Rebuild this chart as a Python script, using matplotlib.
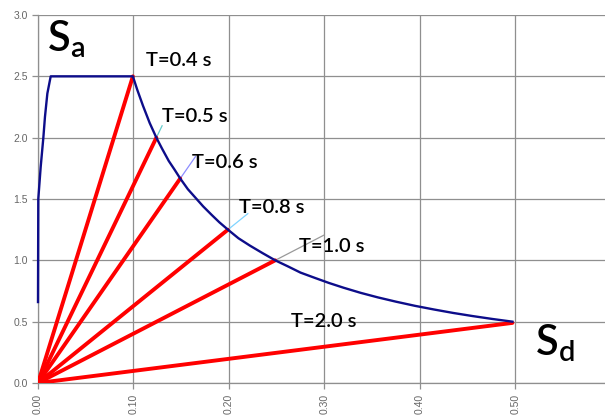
import matplotlib.pyplot as plt

# spectrum curve (Sd in m, Sa in g)
sd_curve = [0.0, 0.0003, 0.0028, 0.0056, 0.0073, 0.0098, 0.0133, 0.0994,
            0.104, 0.110, 0.117, 0.124, 0.130, 0.137, 0.143, 0.149, 0.157,
            0.165, 0.173, 0.182, 0.190, 0.199, 0.210, 0.222, 0.235, 0.2485,
            0.262, 0.275, 0.290, 0.305, 0.320, 0.338, 0.356, 0.375, 0.395,
            0.415, 0.435, 0.455, 0.476, 0.497]
sa_curve = [0.66, 1.50, 1.76, 2.00, 2.17, 2.36, 2.50, 2.50,
            2.39, 2.26, 2.12, 2.00, 1.91, 1.81, 1.74, 1.667, 1.58,
            1.51, 1.44, 1.37, 1.31, 1.25, 1.18, 1.12, 1.06, 1.00,
            0.95, 0.90, 0.857, 0.815, 0.777, 0.735, 0.698, 0.663, 0.629,
            0.599, 0.571, 0.546, 0.522, 0.50]

# period points where the red rays end
periods = ['T=0.4 s', 'T=0.5 s', 'T=0.6 s', 'T=0.8 s', 'T=1.0 s', 'T=2.0 s']
sd_pts = [0.0994, 0.124, 0.149, 0.199, 0.2485, 0.497]
sa_pts = [2.50, 2.00, 1.667, 1.25, 1.00, 0.49]

# short leader lines continuing the rays towards the labels
lead_sd = [None, 0.1303, 0.1653, 0.2203, 0.2998, None]
lead_col = [None, '#66cccc', '#8c8cff', '#7fd4ff', '#999999', None]
lab_x = [0.113, 0.130, 0.1615, 0.2105, 0.2735, 0.265]
lab_y = [2.63, 2.17, 1.80, 1.43, 1.11, 0.50]

plt.rcParams['font.family'] = ['Lato', 'DejaVu Sans']
plt.rcParams['mathtext.default'] = 'regular'

fig = plt.figure(figsize=(6.05, 4.16), dpi=100)
ax = fig.add_axes([38 / 605, 33 / 416, 1 - 38 / 605, (383 - 15) / 416])

ax.set_xlim(0, 0.594)
ax.set_ylim(0, 3.0)
ax.set_xticks([0.0, 0.1, 0.2, 0.3, 0.4, 0.5])
ax.set_xticklabels(['0.00', '0.10', '0.20', '0.30', '0.40', '0.50'], rotation=90)
ax.set_yticks([0.0, 0.5, 1.0, 1.5, 2.0, 2.5, 3.0])
ax.set_yticklabels(['0.0', '0.5', '1.0', '1.5', '2.0', '2.5', '3.0'])
ax.grid(True, color='#8f8f8f', lw=0.9)
ax.set_axisbelow(True)
for s in ['top', 'right']:
    ax.spines[s].set_visible(False)
for s in ['left', 'bottom']:
    ax.spines[s].set_color('#8f8f8f')
    ax.spines[s].set_linewidth(0.9)
ax.tick_params(colors='#8f8f8f', length=4, width=0.9, labelsize=7.5, labelcolor='#666666',
               labelfontfamily='Liberation Sans')

# leader lines
for i in range(len(periods)):
    if lead_sd[i] is None:
        continue
    slope = sa_pts[i] / sd_pts[i]
    ax.plot([sd_pts[i], lead_sd[i]], [sa_pts[i], lead_sd[i] * slope],
            color=lead_col[i], lw=0.9, solid_capstyle='butt')

# red rays from origin
for i in range(len(periods)):
    ax.plot([0, sd_pts[i]], [0, sa_pts[i]], color='#ff0000', lw=2.8,
            solid_capstyle='round', zorder=3)

ax.plot(sd_curve, sa_curve, color='#0d0d8a', lw=1.7, zorder=4, clip_on=False)

for i in range(len(periods)):
    ax.text(lab_x[i], lab_y[i], periods[i], fontsize=14.5, va='center', ha='left',
            color='black', fontweight='semibold', zorder=5)

ax.text(0.0094, 2.70, r'$S_a$', fontsize=30, va='baseline', ha='left', fontweight='semibold')
ax.text(0.521, 0.228, r'$S_d$', fontsize=30, va='baseline', ha='left', fontweight='semibold')

fig.savefig('out.png', dpi=100)
